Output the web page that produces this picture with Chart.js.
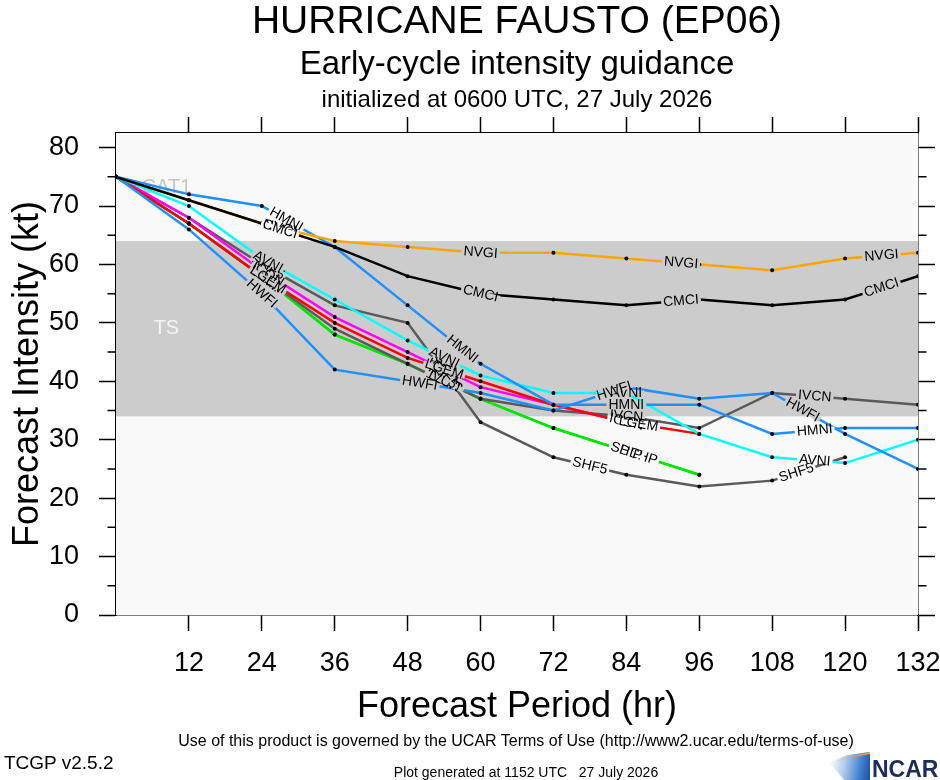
<!DOCTYPE html>
<html>
<head>
<meta charset="utf-8">
<script src="https://cdn.jsdelivr.net/npm/chart.js@4.4.0/dist/chart.umd.min.js"></script>
<style>
    body { margin: 0; background: #fff; }
    #wrap { position: relative; width: 940px; height: 780px; font-family: "Liberation Sans", Arial, sans-serif; overflow: hidden; }
    #wrap canvas { position: absolute; left: 0; top: 0; }
    .txt { position: absolute; white-space: pre; line-height: 1; color: #000; }
    .mid { transform: translateX(-50%); }
    .swoosh { position: absolute; left: 830px; top: 752px; width: 40px; height: 28px;
        background: linear-gradient(100deg, #ffffff 0%, #b9d0ee 35%, #3f7fd0 75%, #1b4f9c 100%);
        clip-path: polygon(0% 38%, 40% 12%, 100% 0%, 100% 100%, 35% 100%); }
    .swoosh-edge { position: absolute; left: 834px; top: 752px; width: 36px; height: 2px;
        background: linear-gradient(90deg, rgba(255,170,60,0) 0%, #f0a040 100%); transform: rotate(-12deg); transform-origin: right center; }
</style>
</head>
<body>
<div id="wrap">
    <canvas id="chartIntensity" width="940" height="780"></canvas>
    <div class="txt mid" style="left:517px;top:0px;font-size:39px">HURRICANE FAUSTO (EP06)</div>
    <div class="txt mid" style="left:517px;top:46px;font-size:33px">Early-cycle intensity guidance</div>
    <div class="txt mid" style="left:517px;top:87px;font-size:24px">initialized at 0600 UTC, 27 July 2026</div>
    <div class="txt mid" style="left:516px;top:733px;font-size:16px">Use of this product is governed by the UCAR Terms of Use (http://www2.ucar.edu/terms-of-use)</div>
    <div class="txt" style="left:4px;top:753px;font-size:19px">TCGP v2.5.2</div>
    <div class="txt mid" style="left:526px;top:765px;font-size:14px">Plot generated at 1152 UTC   27 July 2026</div>
    <div class="swoosh"></div>
    <div class="swoosh-edge"></div>
    <div class="txt" style="left:872px;top:758px;font-size:23px;font-weight:bold;color:#1c2d5c">NCAR</div>
</div>
<script>
// forecast hours and intensities (kt)
const hours = [0, 12, 24, 36, 48, 60, 72, 84, 96, 108, 120, 132];
const xTickLabels = [12, 24, 36, 48, 60, 72, 84, 96, 108, 120, 132];
const yTickLabels = [0, 10, 20, 30, 40, 50, 60, 70, 80];
const yMinorTicks = [5, 15, 25, 35, 45, 55, 65, 75];

const cmciKt = [75, 71, 67, 63, 58, 55, 54, 53, 54, 53, 54, 58];
const nvgiKt = [75, 71, 67, 64, 63, 62, 62, 61, 60, 59, 61, 62];
const hmniKt = [75, 72, 70, 63, 53, 43, 36, 36, 36, 31, 32, 32];
const hwfiKt = [75, 66, 55, 42, 40, 38, 35, 39, 37, 38, 31, 25];
const avniKt = [75, 70, 61, 54, 47, 41, 38, 38, 31, 27, 26, 30];
const lgemKt = [75, 67, 58, 50, 44, 40, 36, 33, 31];
const iconKt = [75, 68, 59, 51, 45, 39, 36, 33];
const shf5Kt = [75, 68, 60, 53, 50, 33, 27, 24, 22, 23, 27];
const ivcnKt = [75, 67, 58, 49, 43, 37, 35, 34, 32, 38, 37, 36];
const shipKt = [75, 67, 58, 48, 43, 37, 32, 28, 24];
const dshpKt = [75, 67, 58, 48, 43, 37, 32, 28, 24];

// intensity categories shown as bands
const catNames = ['TS', 'CAT1'];
const catLower = [34, 64];
const catUpper = [64, 83];

const models = [
    { name: 'CMCI', kt: cmciKt, color: '#000000' },
    { name: 'NVGI', kt: nvgiKt, color: '#ffa500' },
    { name: 'HMNI', kt: hmniKt, color: '#1e90ff' },
    { name: 'HWFI', kt: hwfiKt, color: '#1e90ff' },
    { name: 'AVNI', kt: avniKt, color: '#00ffff' },
    { name: 'LGEM', kt: lgemKt, color: '#ff0000' },
    { name: 'ICON', kt: iconKt, color: '#ff00ff' },
    { name: 'SHF5', kt: shf5Kt, color: '#5a5a5a' },
    { name: 'IVCN', kt: ivcnKt, color: '#5a5a5a' },
    { name: 'SHIP', kt: shipKt, color: '#00e600' },
    { name: 'DSHP', kt: dshpKt, color: '#00e600' },
];

// where along each track the model name is written (forecast hour)
const labelHours = {
    CMCI: [27, 60, 93, 126],
    NVGI: [27, 60, 93, 126],
    HMNI: [28, 57, 84, 115],
    HWFI: [24, 50, 82, 113],
    AVNI: [25, 54, 84, 115],
    LGEM: [25, 54, 86],
    ICON: [25, 54, 84],
    SHF5: [25, 54, 78, 112],
    IVCN: [25, 54, 84, 115],
    SHIP: [25, 54, 84],
    DSHP: [25, 54, 86],
};

const plotBg = '#f9f9f9';
const tsFill = '#cccccc';
const yMax = 82.5;

function bandColor(v) {
    return (v >= catLower[0] && v <= catUpper[0]) ? tsFill : plotBg;
}

const bands = {
    id: 'bands',
    beforeDatasetsDraw(chart) {
        const { ctx, chartArea: a, scales: { x, y } } = chart;
        ctx.save();
        ctx.fillStyle = plotBg;
        ctx.fillRect(a.left, a.top, a.width, a.height);
        const top = y.getPixelForValue(catUpper[0]);
        const bot = y.getPixelForValue(catLower[0]);
        ctx.fillStyle = tsFill;
        ctx.fillRect(a.left, top, a.width, bot - top);

        ctx.font = '20px "Liberation Sans"';
        ctx.textAlign = 'center';
        ctx.textBaseline = 'middle';
        const lx = x.getPixelForValue(8.3);
        ctx.fillStyle = '#f4f4f4';
        ctx.fillText(catNames[0], lx, y.getPixelForValue((catLower[0] + catUpper[0]) / 2));
        ctx.fillStyle = '#c4c4c4';
        ctx.fillText(catNames[1], lx, y.getPixelForValue((catLower[1] + Math.min(catUpper[1], yMax)) / 2));
        ctx.restore();
    }
};

const minorTicks = {
    id: 'minorTicks',
    afterDraw(chart) {
        const { ctx, chartArea: a, scales: { y } } = chart;
        ctx.save();
        ctx.strokeStyle = '#000';
        ctx.lineWidth = 1.5;
        yMinorTicks.forEach(v => {
            const py = y.getPixelForValue(v);
            ctx.beginPath();
            ctx.moveTo(a.left - 8.5, py);
            ctx.lineTo(a.left, py);
            ctx.moveTo(a.right, py);
            ctx.lineTo(a.right + 8.5, py);
            ctx.stroke();
        });
        ctx.restore();
    }
};

const lineLabels = {
    id: 'lineLabels',
    afterDatasetsDraw(chart) {
        const { ctx, scales: { x, y } } = chart;
        ctx.save();
        ctx.font = '14px "Liberation Sans"';
        ctx.textAlign = 'center';
        ctx.textBaseline = 'middle';
        for (let d = chart.data.datasets.length - 1; d >= 0; d--) {
            const ds = chart.data.datasets[d];
            const pts = ds.data;
            (labelHours[ds.label] || []).forEach(h => {
                let i = 0;
                while (i < pts.length - 2 && h > pts[i + 1].x) i++;
                const p0 = pts[i], p1 = pts[i + 1];
                const x0 = x.getPixelForValue(p0.x), y0 = y.getPixelForValue(p0.y);
                const x1 = x.getPixelForValue(p1.x), y1 = y.getPixelForValue(p1.y);
                const t = (h - p0.x) / (p1.x - p0.x);
                const v = p0.y + (p1.y - p0.y) * t;
                const w = ctx.measureText(ds.label).width + 4;

                ctx.save();
                ctx.translate(x0 + (x1 - x0) * t, y0 + (y1 - y0) * t);
                ctx.rotate(Math.atan2(y1 - y0, x1 - x0));
                ctx.strokeStyle = bandColor(v);
                ctx.lineWidth = 5;
                ctx.beginPath();
                ctx.moveTo(-w / 2, 0);
                ctx.lineTo(w / 2, 0);
                ctx.stroke();
                ctx.fillStyle = '#000';
                ctx.fillText(ds.label, 0, 0);
                ctx.restore();
            });
        }
        ctx.restore();
    }
};

const tickFont = { family: 'Liberation Sans', size: 27 };
const titleFont = { family: 'Liberation Sans', size: 36 };
const edge = { color: '#000', width: 1.5 };

function hourTicks(scale) {
    scale.ticks = xTickLabels.map(v => ({ value: v }));
}
function ktTicks(scale) {
    scale.ticks = yTickLabels.map(v => ({ value: v }));
}
// fixed box sizes so the plot frame lands where it should
function fixHeight(h) {
    return s => { s.height = h; s.paddingLeft = 0; s.paddingRight = 0; };
}
function fixWidth(w) {
    return s => { s.width = w; s.paddingTop = 0; s.paddingBottom = 0; };
}

new Chart(document.getElementById('chartIntensity'), {
    type: 'line',
    data: {
        datasets: models.map(m => ({
            label: m.name,
            data: m.kt.map((v, i) => ({ x: hours[i], y: v })),
            borderColor: m.color,
            borderWidth: 2.5,
            pointRadius: 2,
            pointBackgroundColor: '#000',
            pointBorderWidth: 0,
            tension: 0,
            fill: false,
        }))
    },
    options: {
        responsive: false,
        animation: false,
        layout: { padding: 0 },
        plugins: {
            legend: { display: false },
            tooltip: { enabled: false },
        },
        scales: {
            x: {
                type: 'linear', position: 'bottom', min: 0, max: 132,
                afterBuildTicks: hourTicks,
                ticks: { font: tickFont, color: '#000', padding: 16, maxRotation: 0, autoSkip: false },
                grid: { drawOnChartArea: false, tickLength: 16, tickColor: '#000', tickWidth: 1.5 },
                border: edge,
                title: { display: true, text: 'Forecast Period (hr)', font: titleFont, color: '#000', padding: { top: 0, bottom: 51 } },
                afterFit: fixHeight(165)
            },
            x2: {
                type: 'linear', position: 'top', min: 0, max: 132,
                afterBuildTicks: hourTicks,
                ticks: { display: false },
                grid: { drawOnChartArea: false, tickLength: 16, tickColor: '#000', tickWidth: 1.5 },
                border: edge,
                afterFit: fixHeight(133)
            },
            y: {
                type: 'linear', position: 'left', min: 0, max: yMax,
                afterBuildTicks: ktTicks,
                ticks: { font: tickFont, color: '#000', padding: 20 },
                grid: { drawOnChartArea: false, tickLength: 17, tickColor: '#000', tickWidth: 1.5 },
                border: edge,
                title: { display: true, text: 'Forecast Intensity (kt)', font: titleFont, color: '#000', padding: { top: 6, bottom: 0 } },
                afterFit: fixWidth(116)
            },
            y2: {
                type: 'linear', position: 'right', min: 0, max: yMax,
                afterBuildTicks: ktTicks,
                ticks: { display: false },
                grid: { drawOnChartArea: false, tickLength: 17, tickColor: '#000', tickWidth: 1.5 },
                border: edge,
                afterFit: fixWidth(22)
            }
        }
    },
    plugins: [bands, lineLabels, minorTicks]
});
</script>
</body>
</html>
